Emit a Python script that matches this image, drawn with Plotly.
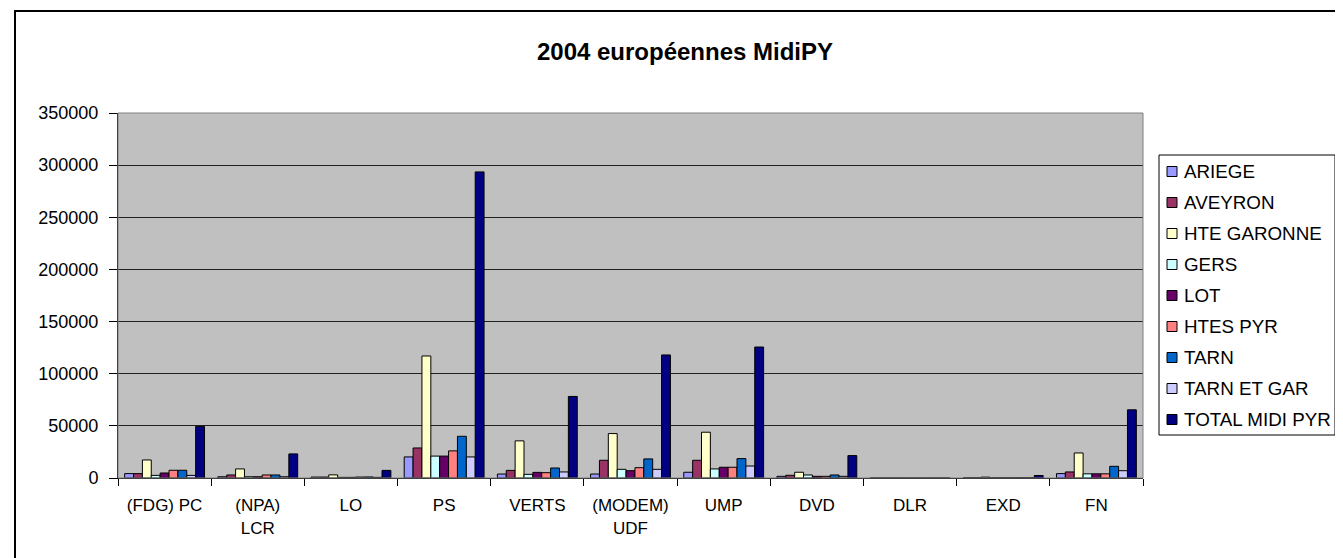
import plotly.graph_objects as go

categories = ["(FDG) PC", "(NPA)<br>LCR", "LO", "PS", "VERTS", "(MODEM)<br>UDF",
              "UMP", "DVD", "DLR", "EXD", "FN"]

ariege = [4200, 1200, 900, 20200, 3800, 3800, 5500, 1600, 0, 200, 4200]
aveyron = [4200, 2900, 900, 28800, 7300, 17000, 17000, 2600, 0, 200, 5800]
hte_garonne = [17300, 8700, 3000, 117000, 35600, 42600, 43900, 5500, 0, 800, 24000]
gers = [2500, 1200, 600, 21000, 3500, 8300, 8700, 2900, 0, 200, 4000]
lot = [4800, 1200, 600, 21000, 5400, 7000, 10300, 1600, 0, 200, 4000]
htes_pyr = [7400, 2900, 900, 26000, 5100, 9900, 10300, 1600, 0, 200, 4000]
tarn = [7400, 2900, 1000, 40000, 9600, 18300, 18600, 2900, 0, 300, 11200]
tarn_et_gar = [2500, 1200, 600, 20200, 5800, 8300, 11500, 1600, 0, 200, 7000]
total_midi_pyr = [49500, 23100, 7300, 293500, 78200, 118000, 125600, 21500, 0, 2400, 65400]

series_names = ["ARIEGE", "AVEYRON", "HTE GARONNE", "GERS", "LOT", "HTES PYR",
                "TARN", "TARN ET GAR", "TOTAL MIDI PYR"]
series_values = [ariege, aveyron, hte_garonne, gers, lot, htes_pyr, tarn,
                 tarn_et_gar, total_midi_pyr]
series_colors = ["#9999FF", "#993366", "#FFFFCC", "#CCFFFF", "#660066", "#FF8080",
                 "#0066CC", "#CCCCFF", "#000080"]

FONT = "Liberation Sans, Arial, sans-serif"

fig = go.Figure()
for name, vals, col in zip(series_names, series_values, series_colors):
    fig.add_trace(go.Bar(
        x=categories, y=vals, name=name, showlegend=False,
        marker=dict(color=col, line=dict(color="black", width=1)),
    ))

# page body has an 8px margin: figure coords = screen coords - 8
OFF = 8
W, H = 1343 - OFF, 558 - OFF
L, R, T, B = 118 - OFF, 1143 - OFF, 113 - OFF, 478 - OFF

def px(x):
    return (x - OFF - L) / (R - L)

def py(y):
    return (B - (y - OFF)) / (B - T)

shapes = []
annotations = []
# outer chart border
shapes.append(dict(type="rect", xref="paper", yref="paper",
                   x0=px(15), x1=px(1350), y0=py(11), y1=py(565),
                   line=dict(color="black", width=2), fillcolor="rgba(0,0,0,0)", layer="below"))
# plot area border (grey)
shapes.append(dict(type="rect", xref="paper", yref="paper",
                   x0=0, x1=1, y0=0, y1=1,
                   line=dict(color="#808080", width=1), fillcolor="rgba(0,0,0,0)", layer="above"))

# legend (Excel style): box, small square swatches, labels
LEG_L, LEG_R, LEG_T, LEG_B = 1159, 1335, 155, 435
shapes.append(dict(type="rect", xref="paper", yref="paper",
                   x0=px(LEG_L), x1=px(LEG_R), y0=py(LEG_T), y1=py(LEG_B),
                   line=dict(color="black", width=1), fillcolor="white", layer="above"))
first_y, step = 171.5, 31.0
for i, (name, col) in enumerate(zip(series_names, series_colors)):
    cy = first_y + i * step
    shapes.append(dict(type="rect", xref="paper", yref="paper",
                       x0=px(1167), x1=px(1177), y0=py(cy - 5), y1=py(cy + 5),
                       line=dict(color="black", width=1), fillcolor=col, layer="above"))
    annotations.append(dict(xref="paper", yref="paper", x=px(1182), y=py(cy),
                            xanchor="left", yanchor="middle", showarrow=False,
                            text=name, font=dict(family=FONT, size=18.8, color="black")))

fig.update_layout(
    width=W, height=H,
    margin=dict(l=L, r=W - R, t=T, b=H - B, pad=0),
    paper_bgcolor="white",
    plot_bgcolor="#C0C0C0",
    barmode="group",
    bargap=0.143,
    bargroupgap=0,
    showlegend=False,
    font=dict(family=FONT, size=18, color="black"),
    title=dict(text="<b>2004 européennes MidiPY</b>", x=(685 - OFF) / W, xanchor="center",
               y=1 - (52 - OFF) / H, yanchor="middle", yref="container",
               font=dict(family=FONT, size=24, color="black")),
    shapes=shapes,
    annotations=annotations,
)
fig.update_xaxes(
    showline=True, linecolor="black", linewidth=1,
    ticks="outside", tickson="boundaries", ticklen=7, tickcolor="black",
    showgrid=False, tickfont=dict(size=17), ticklabelstandoff=12,
)
fig.update_yaxes(
    range=[0, 350000], dtick=50000, tickformat="d",
    showline=True, linecolor="black", linewidth=1,
    ticks="outside", ticklen=8, tickcolor="black",
    showgrid=True, gridcolor="#202020", gridwidth=1,
    zeroline=False, tickfont=dict(size=18), ticklabelstandoff=7,
)

fig.write_html("out.html")
